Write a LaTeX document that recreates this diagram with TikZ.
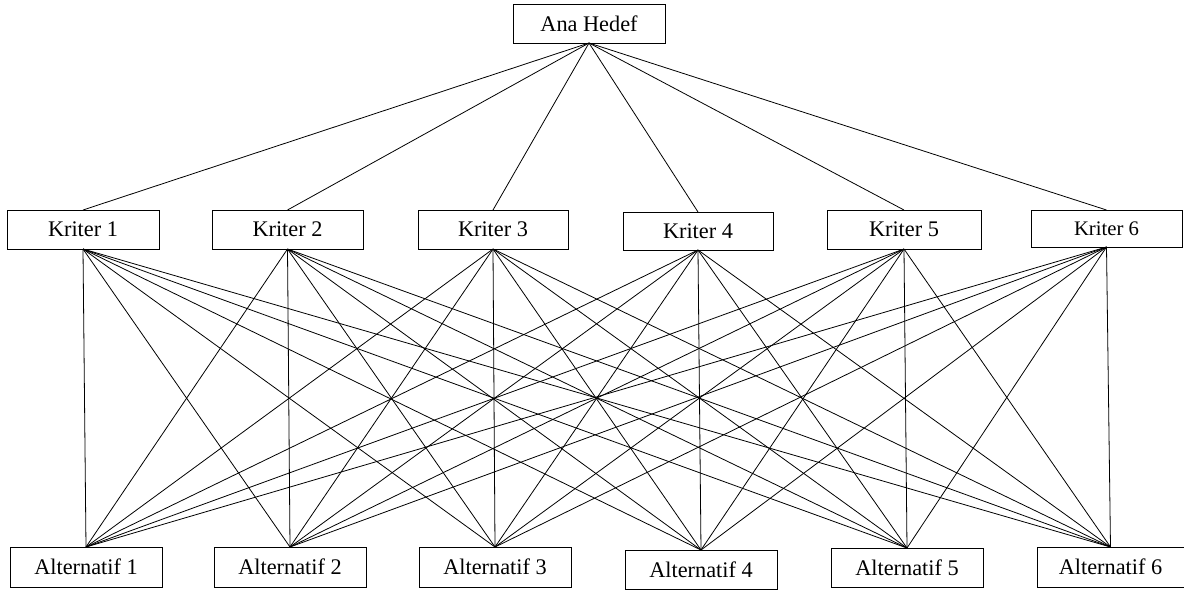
\documentclass[tikz,border=0pt]{standalone}
\usepackage{fontspec}
\setmainfont{Liberation Serif}
\begin{document}
\begin{tikzpicture}[x=1pt,y=-1pt,
  box/.style={draw,line width=0.9pt,inner sep=0pt,outer sep=0pt,minimum width=152pt,minimum height=39pt,font=\fontsize{22.3}{26}\selectfont},
  link/.style={line width=0.8pt}]
\useasboundingbox (0,0) rectangle (1184,590);
\node[box] (a) at (589,23.5) {Ana Hedef};
\node[box,minimum width=152pt] (k1) at (83,229.5) {Kriter 1};
\node[box,minimum width=151pt] (k2) at (287.5,229.5) {Kriter 2};
\node[box,minimum width=150pt] (k3) at (493,229.5) {Kriter 3};
\node[box,minimum width=150pt,minimum height=38pt] (k4) at (698,231) {Kriter 4};
\node[box,minimum width=154pt] (k5) at (904,229.5) {Kriter 5};
\node[box,minimum width=151pt,minimum height=37pt,font=\fontsize{20.7}{24}\selectfont] (k6) at (1106.5,228.5) {Kriter 6};
\node[box,minimum height=40pt] (l1) at (86,567) {Alternatif 1};
\node[box,minimum height=40pt] (l2) at (290,567) {Alternatif 2};
\node[box,minimum height=40pt] (l3) at (495,567) {Alternatif 3};
\node[box] (l4) at (701,569.5) {Alternatif 4};
\node[box] (l5) at (907,567.5) {Alternatif 5};
\node[box,minimum width=147pt,minimum height=40pt] (l6) at (1110.5,567) {Alternatif 6};
\foreach \k in {1,...,6}{
  \draw[link] (a.south) -- (k\k.north);
  \foreach \l in {1,...,6}{
    \draw[link] (k\k.south) -- (l\l.north);
  }
}
\end{tikzpicture}
\end{document}
